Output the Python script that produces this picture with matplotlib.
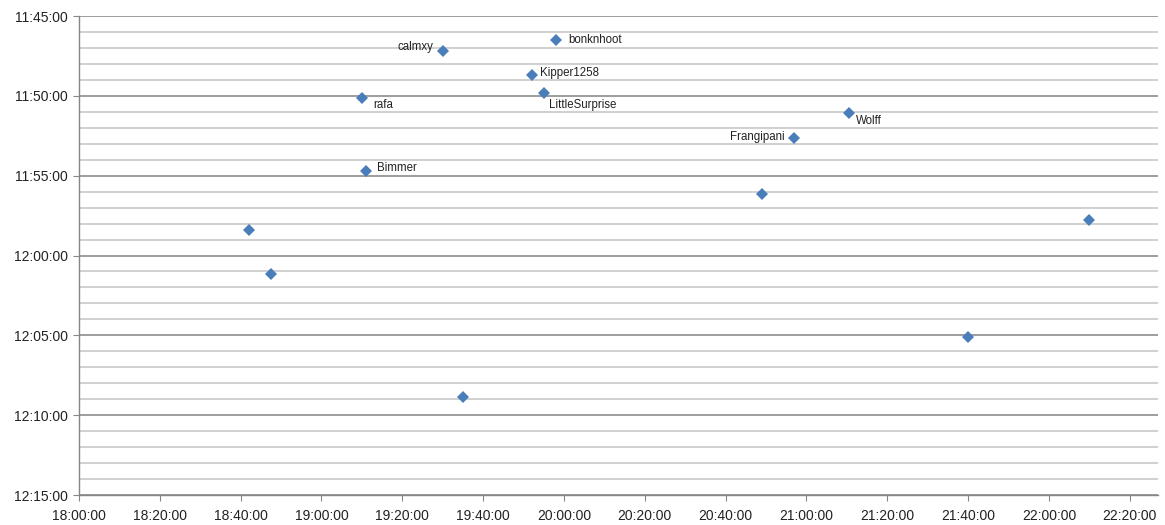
import matplotlib.pyplot as plt
import matplotlib.ticker as ticker

plt.rcParams['font.family'] = ['Liberation Sans', 'DejaVu Sans']

# start time (x) and finish time (y) of each entry
start = ['19:30:00', '19:58:00', '19:52:00', '19:55:00', '19:10:00', '19:11:00',
         '21:10:36', '20:57:00', '20:49:00', '18:42:00', '18:47:30', '19:35:00',
         '21:40:00', '22:10:00']
finish = ['11:47:11', '11:46:30', '11:48:41', '11:49:49', '11:50:08', '11:54:41',
          '11:51:04', '11:52:38', '11:56:08', '11:58:23', '12:01:08', '12:08:53',
          '12:05:08', '11:57:48']
names = ['calmxy', 'bonknhoot', 'Kipper1258', 'LittleSurprise', 'rafa', 'Bimmer',
         'Wolff', 'Frangipani', '', '', '', '', '', '']
# label offsets in points
offsets = [(-7, 3), (9, 0), (6, 1), (4, -9), (8, -5), (8, 2),
           (5, -6), (-7, 1), (0, 0), (0, 0), (0, 0), (0, 0), (0, 0), (0, 0)]
aligns = ['right', 'left', 'left', 'left', 'left', 'left',
          'left', 'right', 'left', 'left', 'left', 'left', 'left', 'left']


def to_sec(s):
    h, m, sec = s.split(':')
    return int(h) * 3600 + int(m) * 60 + float(sec)


def fmt(v, pos):
    v = int(round(v))
    return '%d:%02d:%02d' % (v // 3600, (v % 3600) // 60, v % 60)


xs = [to_sec(s) for s in start]
ys = [to_sec(s) for s in finish]

fig = plt.figure(figsize=(11.65, 5.25), dpi=100)
ax = fig.add_axes([0.0678, 0.0571, 0.9262, 0.9124])

ax.plot(xs, ys, 'D', color='#4a7ebb', markersize=6, markeredgewidth=0, zorder=3)
for x, y, n, off, ha in zip(xs, ys, names, offsets, aligns):
    if n:
        ax.annotate(n, (x, y), xytext=off, textcoords='offset points',
                    fontsize=8.3, ha=ha, va='center', color='#222222')

ax.set_xlim(to_sec('18:00:00'), to_sec('18:00:00') + 267 * 60)
ax.set_ylim(to_sec('12:15:00'), to_sec('11:45:00'))

ax.xaxis.set_major_locator(ticker.MultipleLocator(1200))
ax.yaxis.set_major_locator(ticker.MultipleLocator(300))
ax.yaxis.set_minor_locator(ticker.MultipleLocator(60))
ax.xaxis.set_major_formatter(ticker.FuncFormatter(fmt))
ax.yaxis.set_major_formatter(ticker.FuncFormatter(fmt))

ax.grid(axis='y', which='major', color='#8c8c8c', linewidth=1.2)
ax.grid(axis='y', which='minor', color='#c8c8c8', linewidth=1.2)
ax.set_axisbelow(True)

for s in ['top', 'right']:
    ax.spines[s].set_visible(False)
for s in ['left', 'bottom']:
    ax.spines[s].set_color('#868686')
    ax.spines[s].set_linewidth(1.0)

ax.tick_params(axis='x', which='major', direction='out', length=4, color='#868686',
               labelsize=10, pad=6, labelcolor='#222222')
ax.tick_params(axis='y', which='major', direction='out', length=4, color='#868686',
               labelsize=10, pad=4, labelcolor='#222222')
ax.tick_params(axis='y', which='minor', length=0)

fig.savefig('out.png', dpi=100)
